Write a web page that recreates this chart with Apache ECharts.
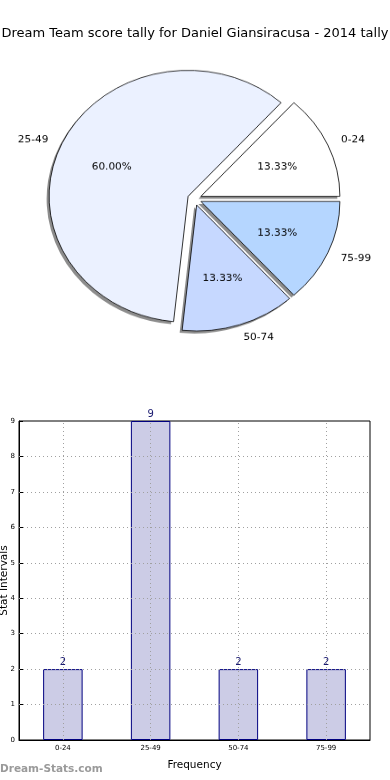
<!DOCTYPE html>
<html>
<head>
<meta charset="utf-8">
<script src="https://cdn.jsdelivr.net/npm/echarts@6/dist/echarts.min.js"></script>
<style>
  html, body { margin: 0; padding: 0; background: #fff; }
  #main { position: absolute; left: 0; top: 0; width: 390px; height: 780px; }
  #pie { position: absolute; left: 0; top: 0; width: 390px; height: 420px;
         transform: scaleY(0.9065); transform-origin: 0 0; pointer-events: none; }
</style>
</head>
<body>
<div id="main"></div>
<div id="pie"></div>
<script>
const titleText = 'Dream Team score tally for Daniel Giansiracusa - 2014 tally';
const categories = ['0-24', '25-49', '50-74', '75-99'];
const counts = [2, 9, 2, 2];
const sliceColors = ['#ffffff', '#ebf1ff', '#c6d8ff', '#b5d6ff'];
const yTicks = [0, 1, 2, 3, 4, 5, 6, 7, 8, 9];
const watermark = 'Dream-Stats.com';

const FONT = 'DejaVu Sans';

// ---------- bar chart + title ----------
const main = echarts.init(document.getElementById('main'), null, { renderer: 'canvas' });
main.setOption({
  animation: false,
  backgroundColor: '#fff',
  textStyle: { fontFamily: FONT },
  title: {
    text: titleText, left: 'center', top: 22,
    textStyle: { fontFamily: FONT, fontSize: 13, fontWeight: 'normal', color: '#000' }
  },
  grid: { left: 19, right: 20, top: 421, bottom: 40, containLabel: false, outerBoundsMode: 'none',
          show: true, borderColor: '#000', borderWidth: 1, backgroundColor: 'transparent' },
  xAxis: {
    type: 'category', data: categories,
    axisLine: { lineStyle: { color: '#000' } },
    axisTick: { show: true, inside: true, alignWithLabel: true, length: 4, lineStyle: { color: '#000' } },
    axisLabel: { fontSize: 7, color: '#000', margin: 5, fontFamily: FONT },
    splitLine: { show: false },
    name: 'Frequency', nameLocation: 'middle', nameGap: 20, nameMoveOverlap: false,
    nameTextStyle: { fontSize: 10.5, color: '#000', fontFamily: FONT }
  },
  yAxis: {
    type: 'value', min: 0, max: 9, interval: 1,
    axisLine: { show: true, lineStyle: { color: '#000' } },
    axisTick: { show: true, inside: true, length: 4, lineStyle: { color: '#000' } },
    axisLabel: { fontSize: 7, color: '#000', margin: 4, fontFamily: FONT },
    splitLine: { show: false },
    name: 'Stat Intervals', nameLocation: 'middle', nameGap: 15, nameRotate: 90, nameMoveOverlap: false,
    nameTextStyle: { fontSize: 10.5, color: '#000', fontFamily: FONT, verticalAlign: 'middle' }
  },
  graphic: [{
    type: 'text', left: 0, top: 764,
    style: { text: watermark, fontSize: 10.5, fontWeight: 'bold', fill: '#9a9a9a', fontFamily: FONT }
  }],
  series: [{
    type: 'bar', data: counts, barWidth: '45%',
    itemStyle: { color: '#ccccE6', borderColor: '#000080', borderWidth: 1 },
    label: { show: true, position: 'top', distance: 2, fontSize: 10, color: '#1a1a70', fontFamily: FONT },
    markLine: {
      silent: true, symbol: 'none', animation: false,
      label: { show: false },
      lineStyle: { type: [1, 3], color: '#a0a0a0', width: 1 },
      data: categories.map(c => ({ xAxis: c })).concat(
        yTicks.filter(v => v > 0 && v < 9).map(v => ({ yAxis: v })))
    }
  }]
});

// ---------- pie (elliptical via vertical CSS scale) ----------
const pie = echarts.init(document.getElementById('pie'), null, { renderer: 'canvas' });
const R = 139;
const CX = 194.5, CY = 219.4;
const total = counts.reduce((a, b) => a + b, 0);
const aligns = ['left', 'right', 'left', 'left'];
const labelW = [23, 29, 29, 29];
const common = {
  type: 'pie', startAngle: 0, clockwise: false,
  selectedMode: 'multiple', selectedOffset: 7, avoidLabelOverlap: false,
  emphasis: { disabled: true }, labelLine: { show: false }
};
pie.setOption({
  animation: false,
  series: [
    // shadow layer
    Object.assign({}, common, {
      center: [CX - 2.5, CY + 2.8], radius: [0, R], silent: true,
      label: { show: false },
      itemStyle: { color: 'rgba(0,0,0,0.45)', borderWidth: 0 },
      data: categories.map((c, i) => ({ name: c, value: counts[i], selected: true }))
    }),
    // slices
    Object.assign({}, common, {
      center: [CX, CY], radius: [0, R],
      label: { show: false },
      itemStyle: { borderColor: '#000', borderWidth: 0.8 },
      data: categories.map((c, i) => ({ name: c, value: counts[i], selected: true, itemStyle: { color: sliceColors[i] } }))
    }),
    // percentage labels at ~0.6 R
    Object.assign({}, common, {
      center: [CX, CY + 1.5], radius: [0.38 * R, 0.78 * R], silent: true,
      itemStyle: { color: 'rgba(0,0,0,0)' },
      label: { show: true, position: 'inside', fontSize: 10.5, color: '#000', fontFamily: FONT,
        formatter: p => (p.value / total * 100).toFixed(2) + '%' },
      data: categories.map((c, i) => ({ name: c, value: counts[i], selected: true }))
    }),
    // category labels at ~1.1 R
    Object.assign({}, common, {
      center: [CX, CY], radius: [0.985 * R, 1.185 * R], silent: true,
      itemStyle: { color: 'rgba(0,0,0,0)' },
      label: { show: true, position: 'inside', fontSize: 10.5, color: '#000', fontFamily: FONT, formatter: '{b}' },
      data: categories.map((c, i) => ({
        name: c, value: counts[i], selected: true,
        label: { padding: aligns[i] === 'left' ? [0, 0, 0, labelW[i]] : [0, labelW[i], 0, 0] }
      }))
    })
  ]
});
</script>
</body>
</html>
